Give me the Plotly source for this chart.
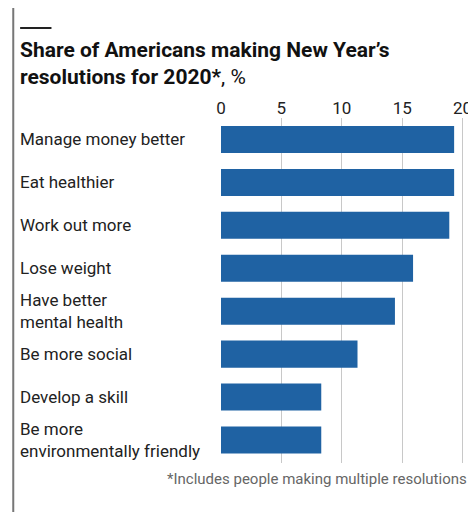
import plotly.graph_objects as go

categories = ["Manage money better", "Eat healthier", "Work out more", "Lose weight",
              "Have better<br>mental health", "Be more social", "Develop a skill",
              "Be more<br>environmentally friendly"]
values = [19.3, 19.3, 18.9, 15.9, 14.4, 11.3, 8.3, 8.3]
tick_vals = [0, 5, 10, 15, 20]

FONT = "Liberation Sans Narrow, Roboto, Liberation Sans, sans-serif"
W, H = 476, 512
L, R, T, B = 213, 14, 110, 57
PW, PH = W - L - R, H - T - B
px = lambda x: (x - L) / PW
py = lambda y: (H - B - y) / PH

fig = go.Figure(go.Bar(x=values, y=categories, orientation="h",
                       marker=dict(color="#1f62a3", line=dict(width=0)), width=0.63))

fig.update_layout(
    width=W, height=H, margin=dict(l=L, r=R, t=T, b=B),
    paper_bgcolor="white", plot_bgcolor="white", showlegend=False,
    font=dict(family=FONT, color="#222"),
    xaxis=dict(range=[0, 20.2], tickvals=tick_vals, side="top", showgrid=True,
               gridcolor="#c8c8c8", gridwidth=1, zeroline=False, showline=False,
               tickfont=dict(size=17, color="#222"), ticks=""),
    yaxis=dict(autorange="reversed", showticklabels=False, showgrid=False, zeroline=False),
)
for c in categories:
    fig.add_annotation(text=c, x=px(6), xref="paper", y=c, yref="y",
                       xanchor="left", align="left", showarrow=False,
                       font=dict(size=17, color="#222", family=FONT))
fig.add_annotation(text="<b>Share of Americans making New Year’s<br>resolutions for 2020*</b>, %",
                   x=px(6), y=py(28), xref="paper", yref="paper", showarrow=False,
                   align="left", xanchor="left", yanchor="top",
                   font=dict(size=21, color="#111", family=FONT))
fig.add_annotation(text="*Includes people making multiple resolutions",
                   x=px(466), y=py(460), xref="paper", yref="paper",
                   showarrow=False, xanchor="right", yanchor="top",
                   font=dict(size=15, color="#666", family=FONT))
fig.add_shape(type="line", xref="paper", yref="paper", x0=px(8), x1=px(40),
              y0=py(20), y1=py(20), line=dict(color="#222", width=2))
fig.add_shape(type="line", xref="paper", yref="paper", x0=px(1), x1=px(1),
              y0=py(512), y1=py(0), line=dict(color="#777", width=2))
fig.write_html("out.html")
